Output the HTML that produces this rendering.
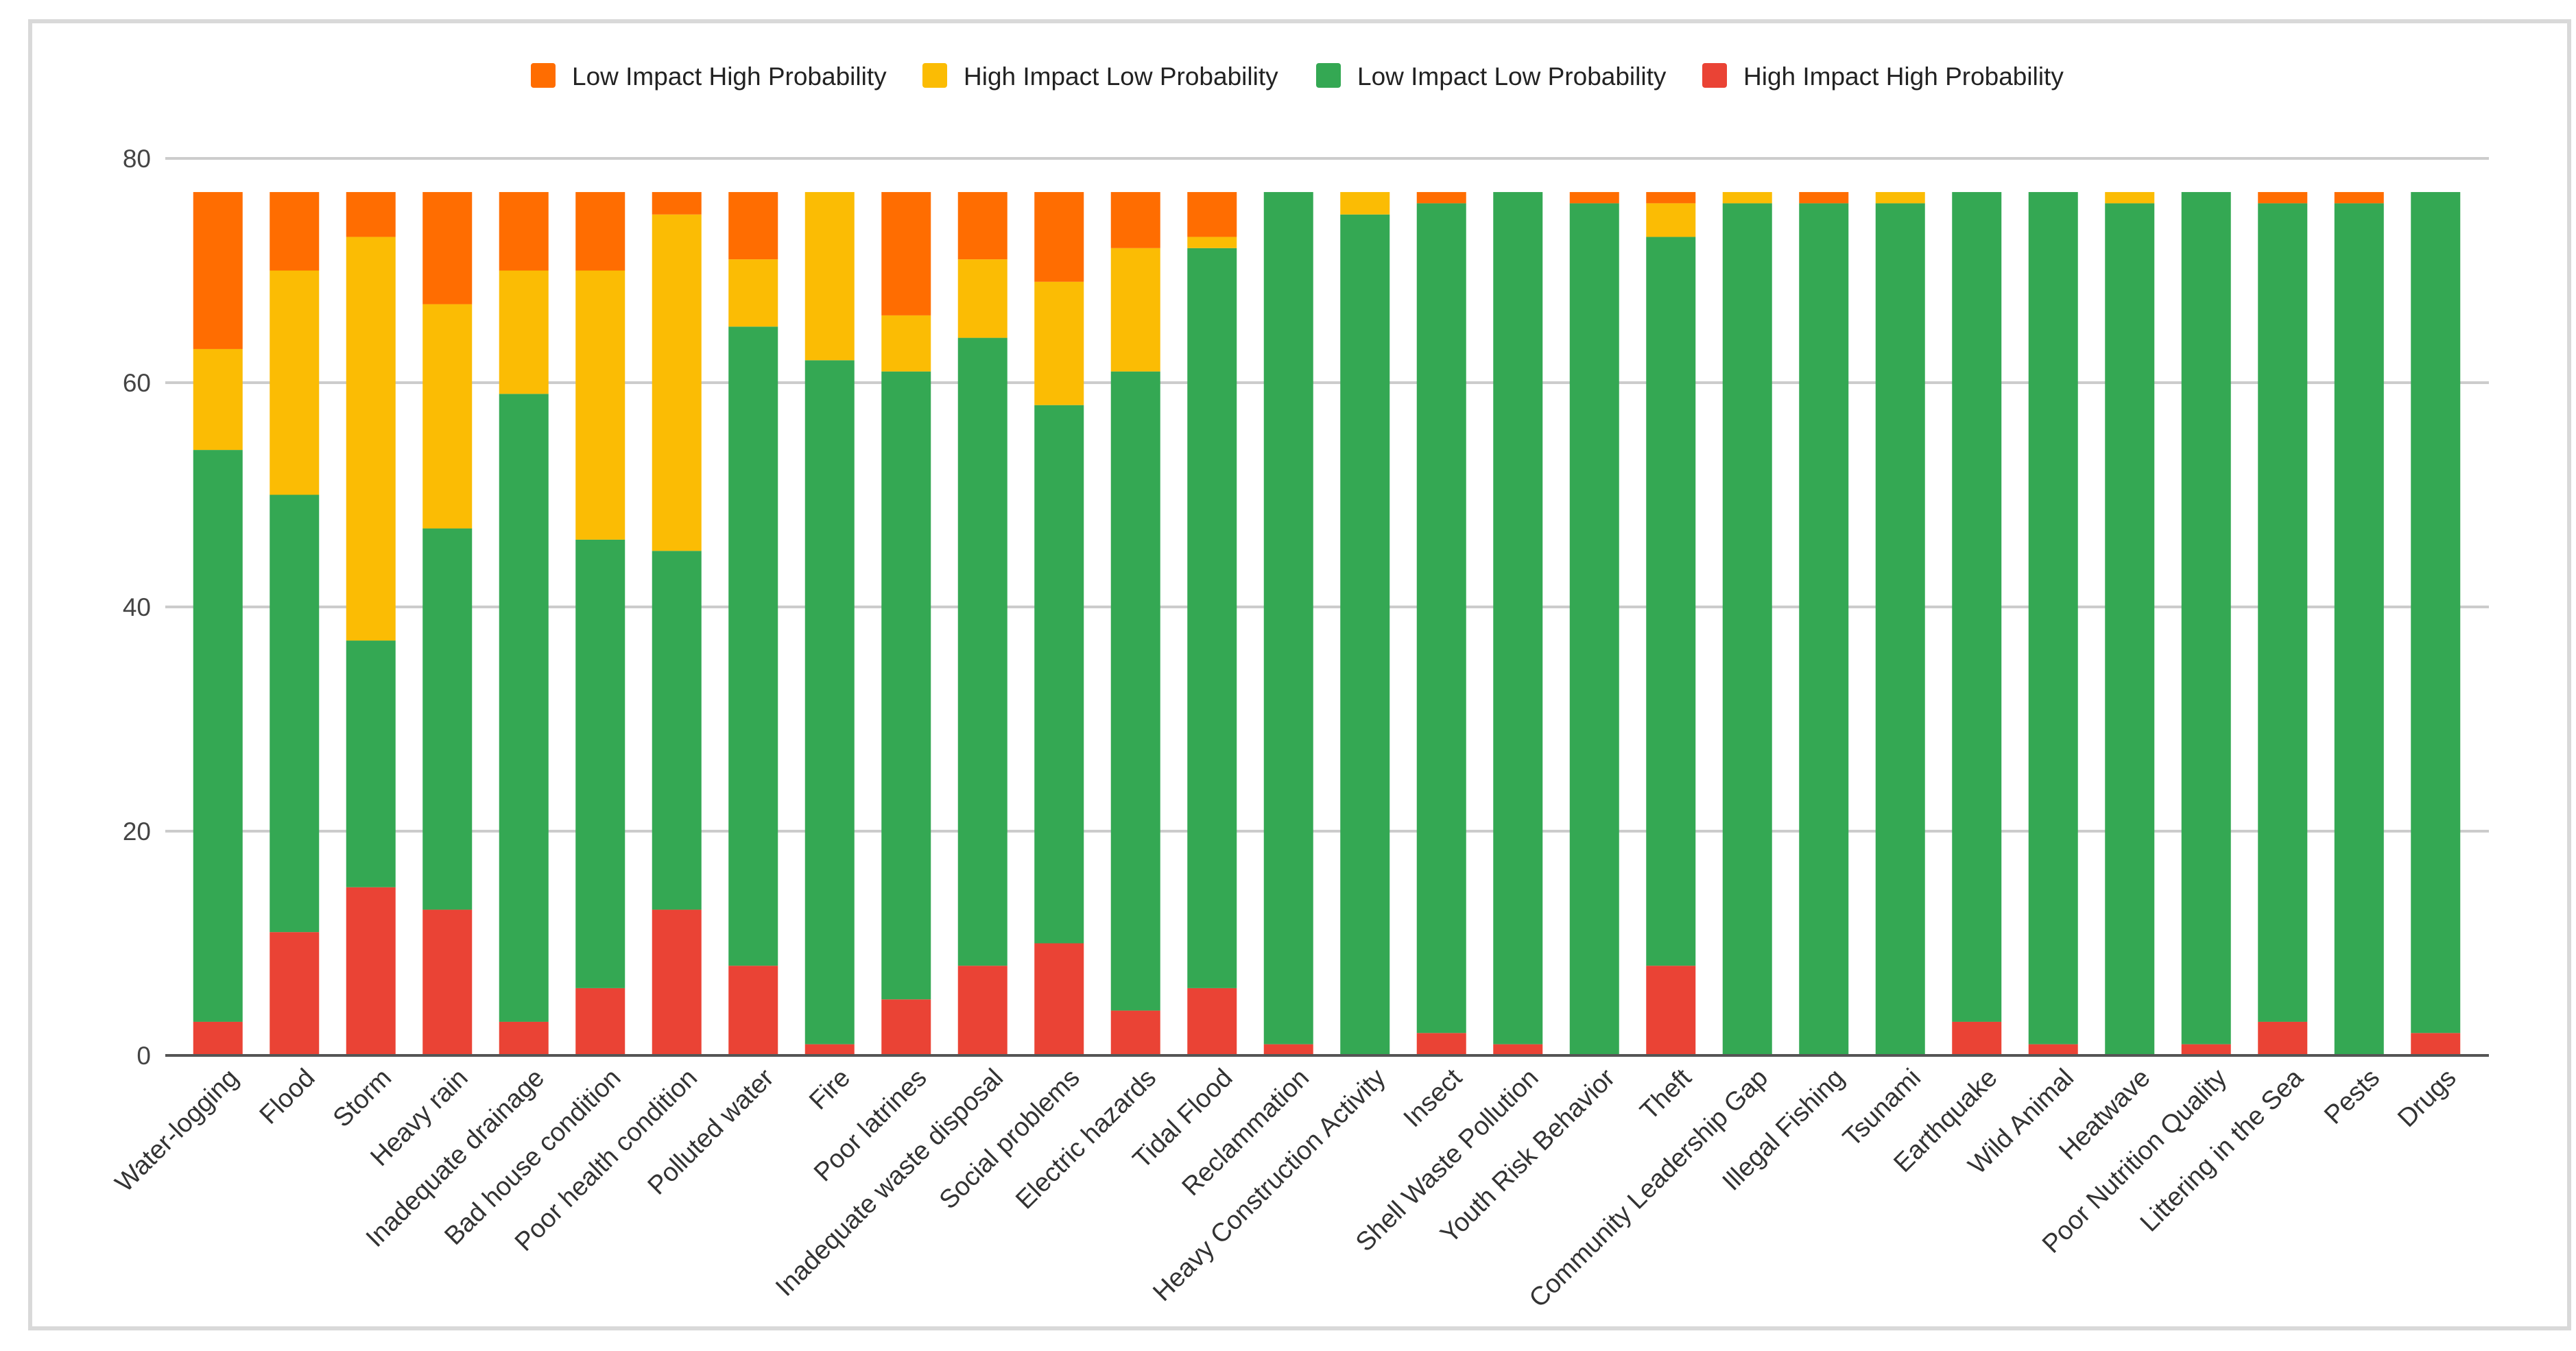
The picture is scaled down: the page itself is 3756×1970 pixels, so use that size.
<!DOCTYPE html>
<html><head><meta charset="utf-8"><style>
html,body{margin:0;padding:0;background:#fff;}
svg{display:block;font-family:"Liberation Sans",Arial,sans-serif;}
</style></head><body>
<svg id="chart" width="3756" height="1970" viewBox="0 0 3756 1970">
<rect x="0" y="0" width="3756" height="1970" fill="#fff"/>
<rect x="44" y="31" width="3702" height="1906" fill="#fff" stroke="#d9d9d9" stroke-width="6"/>
<g id="legend"></g>
<g id="grid"></g>
<g id="bars"></g>
<g id="xlabels"></g>
</svg>
<script>
const categories = ["Water-logging","Flood","Storm","Heavy rain","Inadequate drainage","Bad house condition","Poor health condition","Polluted water","Fire","Poor latrines","Inadequate waste disposal","Social problems","Electric hazards","Tidal Flood","Reclammation","Heavy Construction Activity","Insect","Shell Waste Pollution","Youth Risk Behavior","Theft","Community Leadership Gap","Illegal Fishing","Tsunami","Earthquake","Wild Animal","Heatwave","Poor Nutrition Quality","Littering in the Sea","Pests","Drugs"];
const highImpactHighProb = [3,11,15,13,3,6,13,8,1,5,8,10,4,6,1,0,2,1,0,8,0,0,0,3,1,0,1,3,0,2];
const lowImpactLowProb   = [51,39,22,34,56,40,32,57,61,56,56,48,57,66,76,75,74,76,76,65,76,76,76,74,76,76,76,73,76,75];
const highImpactLowProb  = [9,20,36,20,11,24,30,6,15,5,7,11,11,1,0,2,0,0,0,3,1,0,1,0,0,1,0,0,0,0];
const lowImpactHighProb  = [14,7,4,10,7,7,2,6,0,11,6,8,5,4,0,0,1,0,1,1,0,1,0,0,0,0,0,1,1,0];
const yTicks = [0,20,40,60,80];
const seriesNames = ["Low Impact High Probability","High Impact Low Probability","Low Impact Low Probability","High Impact High Probability"];

const NS="http://www.w3.org/2000/svg";
const plotL=262, plotR=3607, gridL=241, gridR=3629, y0=1539, y80=231;
const yScale=v=>y0-(v/80)*(y0-y80);
const band=(plotR-plotL)/categories.length;
const barW=72;
const xCenter=i=>plotL+band*(i+0.5);
function mk(tag,attrs,parent){const e=document.createElementNS(NS,tag);for(const k in attrs)e.setAttribute(k,attrs[k]);parent.appendChild(e);return e;}

const grid=document.getElementById('grid');
yTicks.forEach(t=>{
  const y=yScale(t);
  if(t!==0){
    const l=mk('line',{x1:gridL,x2:gridR,y1:y,y2:y,stroke:'#cccccc','stroke-width':4},grid);
    
    
  }
  const tx=mk('text',{x:220,y:y+13,'text-anchor':'end','font-size':37,fill:'#444'},grid);
  tx.textContent=t;
  
  
});

const bars=document.getElementById('bars');
const stacks=[[highImpactHighProb,'#ea4335','hihp'],[lowImpactLowProb,'#34a853','lilp'],[highImpactLowProb,'#fbbc04','hilp'],[lowImpactHighProb,'#ff6d01','lihp']];
categories.forEach((c,i)=>{
  let acc=0;
  stacks.forEach(([arr,col,key])=>{
    const v=arr[i];
    if(v<=0)return;
    const yt=yScale(acc+v), yb=yScale(acc);
    const r=mk('rect',{x:xCenter(i)-barW/2,y:yt,width:barW,height:yb-yt,fill:col},bars);
    
    
    acc+=v;
  });
});
const base=mk('line',{x1:gridL,x2:gridR,y1:y0,y2:y0,stroke:'#555','stroke-width':4},bars);



const xl=document.getElementById('xlabels');
categories.forEach((c,i)=>{
  const x=xCenter(i)+32, y=1574;
  const t=mk('text',{x:x,y:y,'text-anchor':'end','font-size':38,fill:'#333',transform:`rotate(-45 ${x} ${y})`},xl);
  t.textContent=c;
  
  
});

const legend=document.getElementById('legend');
const legendX=[774,1345,1919,2482];
const legendCol=['#ff6d01','#fbbc04','#34a853','#ea4335'];
seriesNames.forEach((n,i)=>{
  const g=mk('g',{},legend);
  
  
  mk('rect',{x:legendX[i],y:92,width:36,height:36,rx:4,fill:legendCol[i]},g);
  const t=mk('text',{x:legendX[i]+60,y:124,'font-size':37,fill:'#222'},g);
  t.textContent=n;
});
</script>
</body></html>
